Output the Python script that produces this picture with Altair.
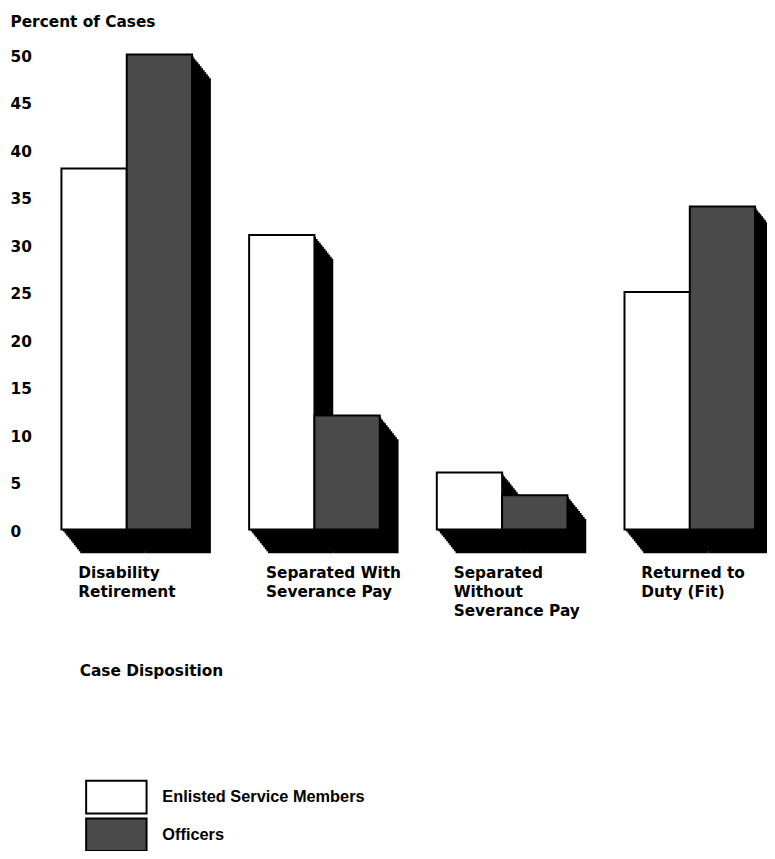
import json
import altair as alt
import pandas as pd

categories = [
    "Disability Retirement",
    "Separated With Severance Pay",
    "Separated Without Severance Pay",
    "Returned to Duty (Fit)",
]
label_lines = [
    ["Disability", "Retirement"],
    ["Separated With", "Severance Pay"],
    ["Separated", "Without", "Severance Pay"],
    ["Returned to", "Duty (Fit)"],
]
series = ["Enlisted Service Members", "Officers"]
enlisted = [38, 31, 6, 25]
officers = [50, 12, 3.6, 34]
fill_colors = ["#ffffff", "#4a4a4a"]
y_ticks = [0, 5, 10, 15, 20, 25, 30, 35, 40, 45, 50]

rows = []
for c, e, o in zip(categories, enlisted, officers):
    rows.append({"disp": c, "group": series[0], "pct": e})
    rows.append({"disp": c, "group": series[1], "pct": o})
df = pd.DataFrame(rows)

label_map = "{" + ", ".join(
    f"{json.dumps(c)}: {json.dumps(l)}" for c, l in zip(categories, label_lines)
) + "}"
label_expr = f"{label_map}[datum.value]"

FONT = "DejaVu Sans"
FS = 15.5
PLOT_W = 701
PAD_INNER = 0.304
GROUP_W = PLOT_W / (4 - PAD_INNER) * (1 - PAD_INNER)

x_enc = alt.X(
    "disp:N",
    sort=categories,
    scale=alt.Scale(paddingInner=PAD_INNER, paddingOuter=0),
    axis=alt.Axis(
        title="Case Disposition",
        titleFont=FONT, titleFontSize=FS, titleFontWeight="bold", titleColor="black",
        titleAlign="left", titleAnchor="start", titleX=18, titleY=143, titleBaseline="middle",
        labelExpr=label_expr, labelAngle=0, labelAlign="left", labelBaseline="top",
        labelOffset=-49, labelPadding=37, labelLineHeight=19,
        labelFont=FONT, labelFontSize=FS, labelFontWeight="bold", labelColor="black",
        ticks=False, tickSize=0, domain=False, grid=False,
    ),
)
y_enc = alt.Y(
    "pct:Q",
    scale=alt.Scale(domain=[0, 50], nice=False, zero=True),
    axis=alt.Axis(
        title="Percent of Cases",
        titleFont=FONT, titleFontSize=FS, titleFontWeight="bold", titleColor="black",
        titleAngle=0, titleAlign="left", titleBaseline="middle", titleX=-52, titleY=-33,
        values=y_ticks, labelAlign="left", labelBaseline="middle", labelPadding=52,
        labelOffset=2, labelFont=FONT, labelFontSize=FS, labelFontWeight="bold",
        labelColor="black", ticks=False, tickSize=0, domain=False, grid=False,
    ),
)


def xo(shift):
    return alt.XOffset(
        "group:N",
        sort=series,
        scale=alt.Scale(domain=series, range=[shift, shift + GROUP_W],
                        paddingInner=0, paddingOuter=0),
    )


DX, DY = 19, 24
steps = 12
shadow_layers = [
    alt.Chart(df)
    .mark_bar(color="black", yOffset=DY * i / steps)
    .encode(x=x_enc, y=y_enc, xOffset=xo(DX * i / steps))
    for i in range(steps + 1)
]

bars = alt.Chart(df).mark_bar(stroke="black", strokeWidth=2).encode(
    x=x_enc,
    y=y_enc,
    xOffset=xo(0),
    fill=alt.Fill(
        "group:N",
        sort=series,
        scale=alt.Scale(domain=series, range=fill_colors),
        legend=alt.Legend(
            orient="none", legendX=38, legendY=733, title=None, padding=0,
            symbolType="M-1.85,-1H1.85V1H-1.85Z", symbolSize=1089,
            symbolStrokeColor="black", symbolStrokeWidth=2, symbolOpacity=1,
            labelFont="Liberation Sans", labelFontSize=16.5, labelFontWeight="bold",
            labelColor="black", labelOffset=29, labelLimit=0, rowPadding=-6,
        ),
    ),
)

chart = (
    alt.layer(*shadow_layers, bars)
    .resolve_scale(xOffset="independent")
    .properties(
        width=PLOT_W,
        height=480,
        autosize=alt.AutoSizeParams(type="none"),
        padding={"left": 54, "top": 42.5, "right": 12, "bottom": 320},
        background="white",
    )
    .configure_view(stroke=None)
)

chart.save("out.html", embed_options={"renderer": "svg", "actions": False})
